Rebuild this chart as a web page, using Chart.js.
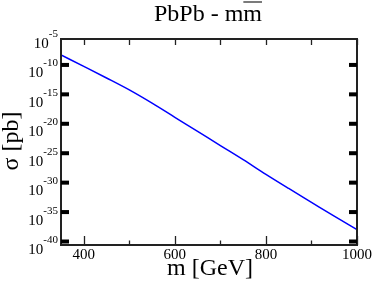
<!DOCTYPE html>
<html>
<head>
<meta charset="utf-8">
<script src="https://cdn.jsdelivr.net/npm/chart.js@4"></script>
<style>
  body { margin: 0; background: #fff; }
  canvas { display: block; }
</style>
</head>
<body>
<canvas id="chart" width="374" height="285"></canvas>
<script>
// data
const masses = [350, 400, 450, 500, 550, 600, 650, 700, 750, 800, 850, 900, 950, 1000];
const sigma = [2.0e-8, 2.24e-10, 2.4e-12, 2.24e-14, 1.26e-16, 5.0e-19, 2.0e-21, 7.9e-24, 3.2e-26, 1.0e-28, 4.0e-31, 1.78e-33, 7.9e-36, 4.0e-38];

const xMajor = [400, 600, 800, 1000];
const xMinor = [500, 700, 900];
const yExps = ["-40", "-35", "-30", "-25", "-20", "-15", "-10", "-5"];

const SERIF = '"Liberation Serif", "DejaVu Serif", serif';

// frame, ticks and all text drawn through the chart's scales
const decor = {
  id: "decor",
  afterDraw(chart) {
    const ctx = chart.ctx;
    const a = chart.chartArea;
    const xs = chart.scales.x;
    const ys = chart.scales.y;
    ctx.save();

    // frame
    ctx.strokeStyle = "#222";
    ctx.lineWidth = 2;
    ctx.strokeRect(a.left, a.top, a.right - a.left, a.bottom - a.top);

    // x ticks
    ctx.lineWidth = 1.3;
    ctx.beginPath();
    xMajor.concat(xMinor).forEach((v) => {
      const px = Math.round(xs.getPixelForValue(v)) + 0.5;
      const len = xMajor.includes(v) ? 9 : 4.5;
      ctx.moveTo(px, a.bottom);
      ctx.lineTo(px, a.bottom - len);
      ctx.moveTo(px, a.top);
      ctx.lineTo(px, a.top + 6);
    });
    ctx.stroke();

    // y ticks (thick marks both sides)
    ctx.fillStyle = "#000";
    yExps.forEach((e) => {
      if (e === "-5") return;
      const py = ys.getPixelForValue(Math.pow(10, Number(e)));
      ctx.fillRect(a.left, py - 5.5, 8, 4);
      ctx.fillRect(a.right - 8, py - 5.5, 8, 4);
    });

    // x tick labels
    ctx.font = "15px " + SERIF;
    ctx.textAlign = "center";
    ctx.textBaseline = "alphabetic";
    xMajor.forEach((v) => {
      ctx.fillText(String(v), xs.getPixelForValue(v), 259);
    });

    // y tick labels 10^e
    yExps.forEach((e) => {
      const py = ys.getPixelForValue(Math.pow(10, Number(e)));
      ctx.font = "11px " + SERIF;
      ctx.textAlign = "right";
      const w = ctx.measureText(e).width;
      ctx.fillText(e, 58, py - 2);
      ctx.font = "15px " + SERIF;
      ctx.fillText("10", 58 - w, py + 9);
    });

    // axis titles
    ctx.font = "24px " + SERIF;
    ctx.textAlign = "center";
    ctx.fillText("m [GeV]", 210, 275);
    ctx.save();
    ctx.translate(18, 141);
    ctx.rotate(-Math.PI / 2);
    ctx.fillText("σ [pb]", 0, 0);
    ctx.restore();

    // title with overline on the second m
    const t1 = "PbPb - m";
    const t2 = "m";
    const w1 = ctx.measureText(t1).width;
    const w2 = ctx.measureText(t2).width;
    const x0 = 208 - (w1 + w2) / 2;
    ctx.textAlign = "left";
    ctx.fillText(t1, x0, 21);
    ctx.fillText(t2, x0 + w1, 21);
    ctx.lineWidth = 1.2;
    ctx.beginPath();
    ctx.moveTo(x0 + w1, 2);
    ctx.lineTo(x0 + w1 + w2, 2);
    ctx.stroke();

    ctx.restore();
  },
};

new Chart(document.getElementById("chart"), {
  type: "line",
  data: {
    datasets: [
      {
        data: masses.map((m, i) => ({ x: m, y: sigma[i] })),
        borderColor: "#0000ff",
        borderWidth: 1.5,
        pointRadius: 0,
        cubicInterpolationMode: "monotone",
      },
    ],
  },
  options: {
    responsive: false,
    animation: false,
    layout: { padding: { left: 61, right: 17, top: 39, bottom: 40 } },
    plugins: { legend: { display: false }, title: { display: false }, tooltip: { enabled: false } },
    scales: {
      x: { type: "linear", min: 350, max: 1000, display: false },
      y: { type: "logarithmic", min: 1e-40, max: 1e-5, display: false },
    },
  },
  plugins: [decor],
});
</script>
</body>
</html>
